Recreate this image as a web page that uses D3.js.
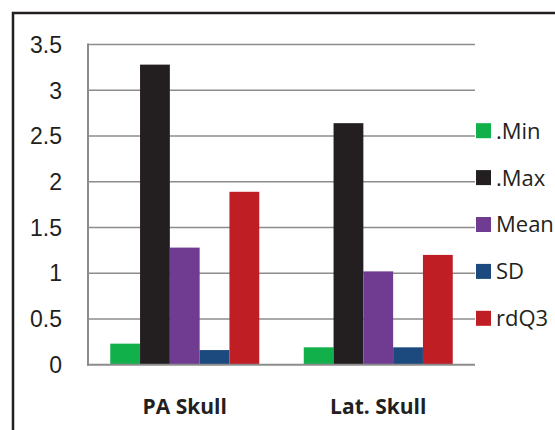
<!DOCTYPE html>
<html><head><meta charset="utf-8">
<script src="https://cdn.jsdelivr.net/npm/d3@7"></script>
<style>html,body{margin:0;padding:0;background:#fff;overflow:hidden}</style>
</head><body>
<svg id="c" width="555" height="430"></svg>
<script>
const categories = ["PA Skull", "Lat. Skull"];
const seriesNames = [".Min", ".Max", "Mean", "SD", "rdQ3"];
const seriesColors = ["#12b04b", "#231f20", "#6f3c92", "#1d4a7e", "#be1e24"];
const minValues = [0.23, 0.19];
const maxValues = [3.28, 2.64];
const meanValues = [1.28, 1.02];
const sdValues = [0.16, 0.19];
const rdQ3Values = [1.89, 1.20];
const yTicks = [0, 0.5, 1, 1.5, 2, 2.5, 3, 3.5];

const series = [minValues, maxValues, meanValues, sdValues, rdQ3Values];
const svg = d3.select("#c");

// outer frame
svg.append("rect").attr("x", 13).attr("y", 13).attr("width", 600).attr("height", 500)
  .attr("fill", "none").attr("stroke", "#231f20").attr("stroke-width", 2.5);

const L = 88, R = 475, T = 44.5, B = 364.7;
const y = d3.scaleLinear().domain([0, 3.5]).range([B, T]);
const x0 = d3.scaleBand().domain(categories).range([L, R]).paddingInner(0.23).paddingOuter(0.115);
const x1 = d3.scaleBand().domain(seriesNames).range([0, x0.bandwidth()]);

// gridlines
svg.append("g").selectAll("line").data(yTicks.filter(d => d > 0)).join("line")
  .attr("x1", L).attr("x2", R).attr("y1", d => y(d)).attr("y2", d => y(d))
  .attr("stroke", "#8c8c8c").attr("stroke-width", 1.6);

// y labels
svg.append("g").selectAll("text").data(yTicks).join("text")
  .attr("x", 62).attr("y", d => y(d)).attr("dy", "0.36em")
  .attr("text-anchor", "end").attr("font-family", "Liberation Sans, Arial, sans-serif")
  .attr("font-size", 23).attr("fill", "#231f20").text(d => d);

// bars
const g = svg.append("g");
categories.forEach((c, ci) => {
  seriesNames.forEach((s, si) => {
    const v = series[si][ci];
    g.append("rect").attr("x", x0(c) + x1(s)).attr("y", y(v))
      .attr("width", x1.bandwidth()).attr("height", B - y(v))
      .attr("fill", seriesColors[si]);
  });
});

// axes lines
svg.append("line").attr("x1", L).attr("x2", L).attr("y1", T - 1).attr("y2", B + 1)
  .attr("stroke", "#8c8c8c").attr("stroke-width", 2);
svg.append("line").attr("x1", L - 1).attr("x2", R).attr("y1", B).attr("y2", B)
  .attr("stroke", "#8c8c8c").attr("stroke-width", 2);

// x labels
svg.append("g").selectAll("text").data(categories).join("text")
  .attr("x", d => x0(d) + x0.bandwidth() / 2).attr("y", 414.3)
  .attr("text-anchor", "middle").attr("font-family", "Open Sans, sans-serif")
  .attr("font-weight", "bold").attr("font-size", 21).attr("fill", "#231f20").text(d => d);

// legend
const lg = svg.append("g");
seriesNames.forEach((s, i) => {
  const cy = 130.7 + i * 46.9;
  lg.append("rect").attr("x", 476).attr("y", cy - 7.5).attr("width", 15).attr("height", 15)
    .attr("fill", seriesColors[i]);
  lg.append("text").attr("x", 496).attr("y", cy).attr("dy", "0.36em")
    .attr("font-family", "Open Sans, sans-serif").attr("font-size", 22)
    .attr("fill", "#231f20").text(s);
});
</script>
</body></html>
